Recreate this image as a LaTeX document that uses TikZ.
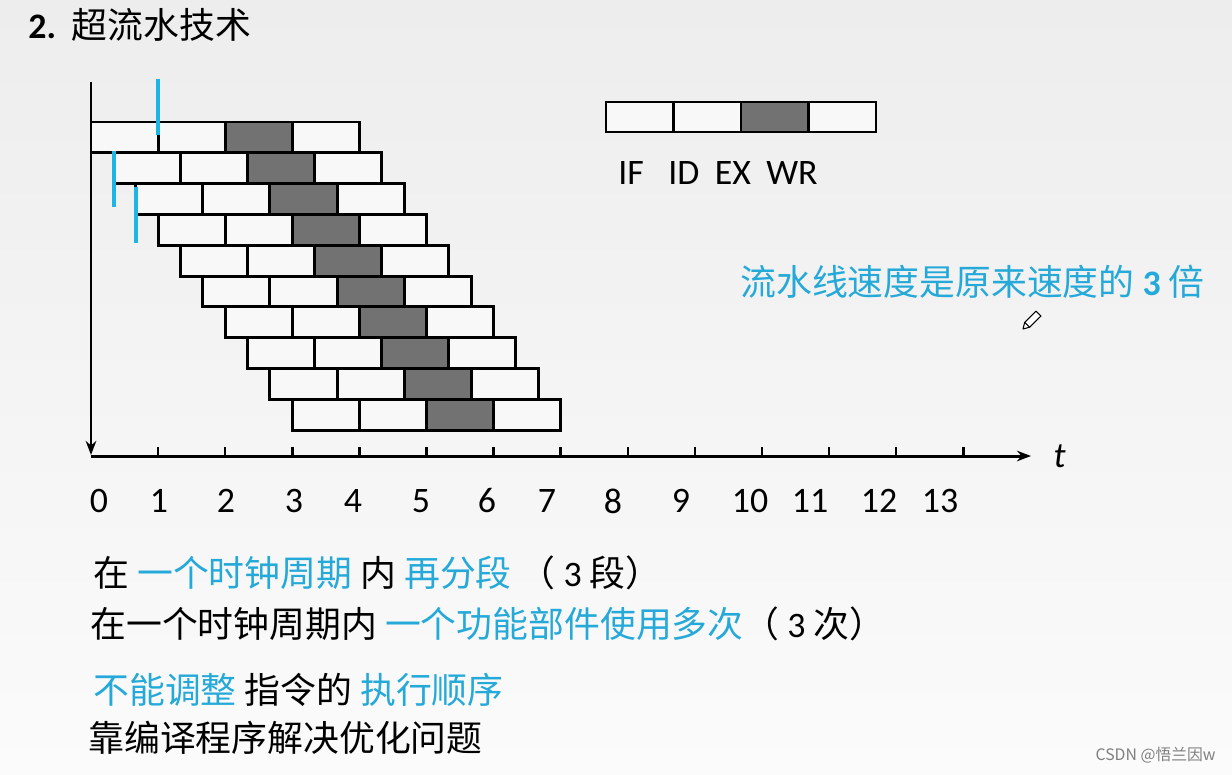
\documentclass[tikz,border=0pt]{standalone}
\usepackage{fontspec}
\setmainfont{Carlito}
\newfontfamily\cjk{Noto Sans CJK SC}
\usetikzlibrary{arrows.meta}
\definecolor{bgtop}{RGB}{237,237,237}
\definecolor{bgbot}{RGB}{251,251,251}
\definecolor{cellwhite}{RGB}{248,248,248}
\definecolor{stagegray}{RGB}{114,114,114}
\definecolor{hint}{RGB}{37,169,217}
\definecolor{cutblue}{RGB}{30,180,228}
\tikzset{
  axis/.style={-{Stealth[length=8pt,width=6pt]}, line width=1.7pt},
  tick/.style={line width=1.4pt},
  cell/.style={draw, line width=1.7pt, fill=cellwhite},
  exec cell/.style={cell, fill=stagegray},
  clock cut/.style={cutblue, line width=2.2pt},
  big text/.style={font=\fontsize{20.4}{24}\selectfont, inner sep=0pt},
}

\begin{document}
\begin{tikzpicture}[x=0.02cm, y=-0.02cm]
  \useasboundingbox (0,0) rectangle (1232,775);
  \shade[top color=bgtop, bottom color=bgbot] (0,0) rectangle (1232,775);

  % Title
  \node[big text, anchor=west] (title) at (28,25) {\textbf{2.}\hspace{9pt}{\cjk 超流水技术}};

  % Instructions: 4 stages each, a new one every third of a cycle
  \foreach \r in {0,...,9}{
    \foreach \s/\sty in {0/cell,1/cell,2/exec cell,3/cell}{
      \draw[\sty] (91+22.37*\r+67.1*\s, 122+30.8*\r) rectangle ++(67.1,30.8);
    }
  }

  % Clock cuts
  \draw[clock cut] (158,79) -- (158,135);
  \draw[clock cut] (114,151) -- (114,207);
  \draw[clock cut] (136,187) -- (136,243);

  % Axes
  \draw[axis] (91,82) -- (91,455);
  \draw[axis] (91,456) -- (1031,456) node[right=12pt, big text, font=\fontsize{20.4}{24}\selectfont\itshape] (tlabel) {t};
  \foreach \i in {1,...,13}
    \draw[tick] (91+67.1*\i,447) -- (91+67.1*\i,456);
  \foreach \n/\lx in {0/99,1/159,2/226,3/294,4/353,5/421,6/487,7/547,8/613,9/681,10/750,11/810,12/879,13/940}
    \node[big text] (lbl\n) at (\lx,501) {\n};

  % Legend
  \foreach \s/\sty in {0/cell,1/cell,2/exec cell,3/cell}
    \draw[\sty] (606+67.5*\s,102) rectangle ++(67.5,30);
  \node[big text] (stIF) at (631,173) {IF};
  \node[big text] (stID) at (684,173) {ID};
  \node[big text] (stEX) at (733,173) {EX};
  \node[big text] (stWR) at (792,173) {WR};

  % Speed-up note
  \node[big text, anchor=west, text=hint] (speedup) at (740,282)
    {{\cjk 流水线速度是原来速度的} \textbf{3} {\cjk 倍}};
  % pencil cursor
  \draw[line width=0.6pt, fill=white, line join=round]
    (1023,329) -- (1029.6,327.2) -- (1040.9,316.1) -- (1036,311.2) -- (1024.7,322.4) -- cycle;
  \draw[line width=0.6pt] (1029.6,327.2) -- (1024.7,322.4);

  % Notes
  \node[big text, anchor=west] (noteA) at (93,573)
    {\cjk 在 {\color{hint}一个时钟周期} 内 {\color{hint}再分段} （ {\rmfamily 3} 段）};
  \node[big text, anchor=west] (noteB) at (90,624)
    {\cjk 在一个时钟周期内 {\color{hint}一个功能部件使用多次}（ {\rmfamily 3} 次）};
  \node[big text, anchor=west] (noteC) at (93,690)
    {\cjk {\color{hint}不能调整} 指令的 {\color{hint}执行顺序}};
  \node[big text, anchor=west] (noteD) at (88,738)
    {\cjk 靠编译程序解决优化问题};

  % Watermark
  \node[anchor=east, inner sep=0pt, text=gray, font=\cjk\fontsize{9}{11}\selectfont] (credit) at (1216,755) {CSDN @悟兰因w};
\end{tikzpicture}
\end{document}
